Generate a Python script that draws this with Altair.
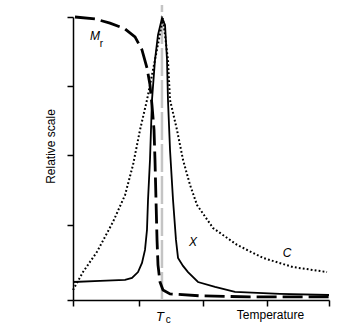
import altair as alt
import pandas as pd

# Curves (x in temperature units, y in relative scale)
mr_x = [0.031, 0.344, 0.578, 0.813, 0.969, 1.078, 1.156, 1.203, 1.234, 1.266, 1.281, 1.297, 1.313, 1.328, 1.359, 1.406, 1.516, 1.984, 2.766, 4.0]
mr_y = [1.000, 0.993, 0.978, 0.957, 0.928, 0.881, 0.816, 0.755, 0.682, 0.592, 0.484, 0.339, 0.195, 0.105, 0.043, 0.014, 0.0, -0.007, -0.011, -0.011]

chi_x = [0.0, 0.422, 0.813, 0.922, 1.016, 1.078, 1.125, 1.156, 1.172, 1.203, 1.234, 1.281, 1.328, 1.391, 1.438, 1.469, 1.484, 1.516, 1.563, 1.609, 1.641, 1.719, 1.797, 1.953, 2.219, 2.531, 3.234, 4.0]
chi_y = [0.043, 0.047, 0.051, 0.058, 0.079, 0.112, 0.159, 0.231, 0.339, 0.484, 0.700, 0.845, 0.935, 0.996, 0.971, 0.845, 0.700, 0.520, 0.339, 0.195, 0.130, 0.101, 0.079, 0.043, 0.025, 0.007, 0.0, -0.004]

c_x = [0.0, 0.156, 0.375, 0.625, 0.813, 0.938, 1.047, 1.156, 1.281, 1.406, 1.484, 1.516, 1.625, 1.719, 1.828, 1.938, 2.188, 2.563, 2.969, 3.438, 3.969]
c_y = [0.014, 0.079, 0.152, 0.260, 0.357, 0.466, 0.592, 0.700, 0.845, 0.996, 0.845, 0.700, 0.592, 0.484, 0.394, 0.321, 0.238, 0.177, 0.130, 0.097, 0.079]

tc_x = [1.39]
tc_y = [-0.022]
tc_y2 = [1.043]

x_ticks = [0, 1.03, 2.03, 3.03, 4]
y_ticks = [-0.022, 0.25, 0.5, 0.75, 1.0]

main_labels = ["M", "X", "C", "T"]
main_lx = [0.344, 1.875, 3.344, 1.359]
main_ly = [0.931, 0.188, 0.148, -0.083]
main_size = [12, 12, 12, 13]

sub_labels = ["r", "c"]
sub_lx = [0.445, 1.49]
sub_ly = [0.902, -0.094]

X_SCALE = alt.Scale(domain=[0, 4], nice=False, zero=False)
Y_SCALE = alt.Scale(domain=[-0.022, 1.0], nice=False, zero=False)

mr = pd.DataFrame({"x": mr_x, "y": mr_y})
chi = pd.DataFrame({"x": chi_x, "y": chi_y})
cc = pd.DataFrame({"x": c_x, "y": c_y})
tc = pd.DataFrame({"x": tc_x, "y": tc_y, "y2": tc_y2})
lab = pd.DataFrame({"t": main_labels, "x": main_lx, "y": main_ly, "s": main_size})
sub = pd.DataFrame({"t": sub_labels, "x": sub_lx, "y": sub_ly})

xenc = alt.X("x:Q", scale=X_SCALE, axis=alt.Axis(
    values=x_ticks, labels=False, grid=False, title="Temperature",
    titleX=197, titleY=14, titleBaseline="middle", titleAlign="center",
    titleFontSize=12, titleFontWeight="normal", titleFont="Liberation Sans",
    titleColor="black", domainColor="black", domainWidth=1.5,
    tickColor="black", tickWidth=1.5, tickSize=6))
yenc = alt.Y("y:Q", scale=Y_SCALE, axis=alt.Axis(
    values=y_ticks, labels=False, grid=False, title="Relative scale",
    titleX=-23, titleY=129, titleAngle=-90, titleBaseline="middle",
    titleAlign="center", titleFontSize=12, titleFontWeight="normal",
    titleFont="Liberation Sans", titleColor="black", domainColor="black",
    domainWidth=1.5, tickColor="black", tickWidth=1.5, tickSize=6))

gray = alt.Chart(tc).mark_rule(color="#c4c4c4", strokeWidth=2.5, strokeDash=[28, 4]).encode(
    x=alt.X("x:Q", scale=X_SCALE), y=alt.Y("y:Q", scale=Y_SCALE), y2="y2:Q")

l_c = alt.Chart(cc).mark_line(color="black", strokeWidth=2, strokeDash=[1.8, 2.2], strokeCap="butt").encode(x=xenc, y=yenc)
l_chi = alt.Chart(chi).mark_line(color="black", strokeWidth=1.8).encode(x=xenc, y=yenc)
l_mr = alt.Chart(mr).mark_line(color="black", strokeWidth=2.8, strokeDash=[20, 6]).encode(x=xenc, y=yenc)

t_main = alt.Chart(lab).mark_text(fontStyle="italic", font="Liberation Sans", color="black").encode(
    x=alt.X("x:Q", scale=X_SCALE), y=alt.Y("y:Q", scale=Y_SCALE), text="t:N",
    size=alt.Size("s:Q", scale=None))
t_sub = alt.Chart(sub).mark_text(fontSize=10, font="Liberation Sans", color="black").encode(
    x=alt.X("x:Q", scale=X_SCALE), y=alt.Y("y:Q", scale=Y_SCALE), text="t:N")

chart = alt.layer(gray, l_c, l_chi, l_mr, t_main, t_sub).properties(
    width=256, height=283,
    padding={"left": 73, "top": 17, "right": 31, "bottom": 30},
    autosize=alt.AutoSizeParams(type="none"),
    background="white",
).configure_view(stroke=None)

chart.save("out.html", embed_options={"renderer": "svg", "actions": False})
